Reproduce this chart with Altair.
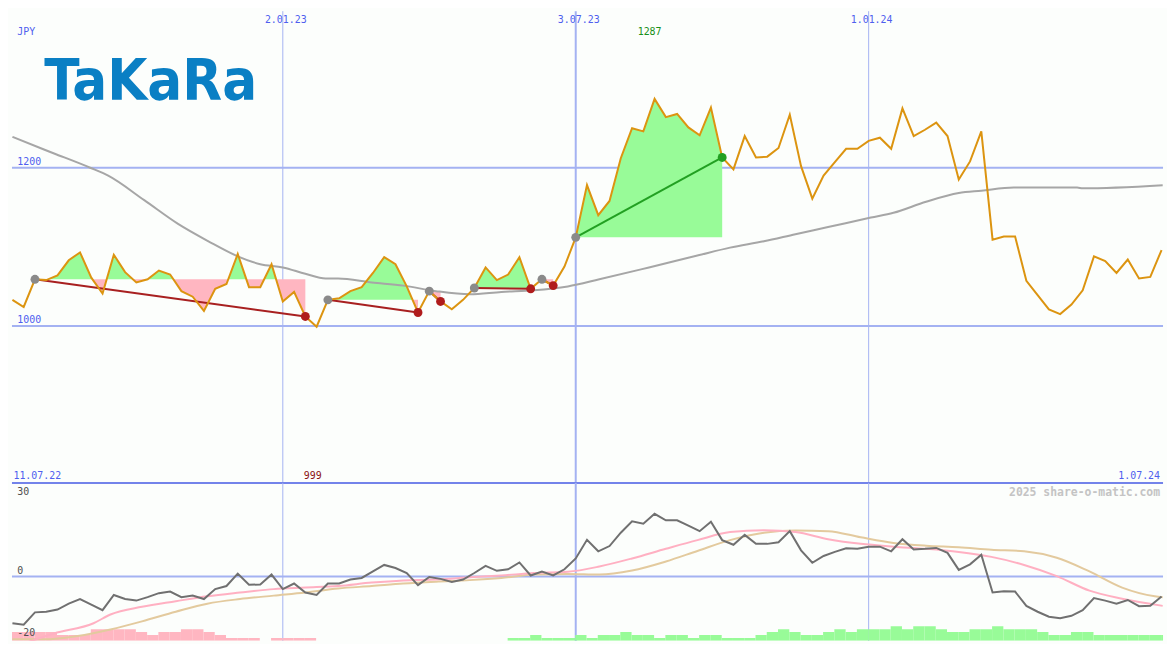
import altair as alt
import numpy as np
import pandas as pd

# ---------------- data (weekly, week 0 = 11.07.22) ----------------
PRICE = [1033, 1024, 1059, 1058, 1064, 1083, 1093, 1061, 1041, 1090,
         1068, 1055, 1059, 1070, 1065, 1044, 1037, 1019, 1047, 1053,
         1091, 1049, 1049, 1078, 1031, 1043, 1012, 999, 1033, 1035,
         1044, 1049, 1067, 1087, 1078, 1050, 1017, 1044, 1031, 1021,
         1033, 1048, 1074, 1058, 1065, 1087, 1047, 1059, 1051, 1075,
         1112, 1178, 1140, 1158, 1212, 1250, 1246, 1287, 1264, 1268,
         1251, 1241, 1276, 1213, 1198, 1240, 1213, 1214, 1225, 1267,
         1202, 1161, 1190, 1207, 1224, 1224, 1234, 1238, 1224, 1275,
         1240, 1248, 1257, 1240, 1185, 1208, 1246, 1109, 1113, 1113,
         1057, 1039, 1021, 1015, 1027, 1045, 1088, 1082, 1067, 1084,
         1060, 1062, 1096]

MA_K = [0, 2.8, 3.7, 6.9, 8.5, 11.7, 14.7, 17.4, 20.0, 22.0,
        24.0, 26.0, 27.8, 28.9, 31.9, 34.7, 37.6, 40.6, 43.4, 46.3,
        49.3, 52.1, 56.5, 60.8, 63.7, 66.7, 69.5, 72.4, 76.2, 78.2,
        81.1, 84.0, 86.0, 88.9, 94.5, 95.0, 102.1]
MA_V = [1239, 1223, 1218, 1200, 1190, 1159, 1129, 1107, 1088, 1078,
        1074, 1066, 1060, 1060, 1055, 1051, 1044, 1040, 1043, 1045,
        1050, 1059, 1074, 1089, 1099, 1107, 1116, 1125, 1137, 1143,
        1157, 1168, 1171, 1175, 1175, 1174, 1178]

SEG_START = [2, 28, 37, 41, 47, 50]
SEG_END = [26, 36, 38, 46, 48, 63]

MOM = [-15.1, -15.6, -11.6, -11.4, -10.7, -8.8, -7.3, -9.1, -10.9, -6.0,
       -7.3, -7.8, -6.7, -5.4, -4.9, -6.7, -6.2, -7.3, -4.1, -3.1,
       0.9, -2.7, -2.6, 0.6, -4.1, -2.3, -5.2, -6.0, -2.3, -2.3,
       -1.0, -0.5, 1.6, 3.7, 2.7, 1.1, -2.8, -0.2, -0.8, -1.8,
       -1.0, 1.1, 3.4, 1.8, 2.3, 4.5, 0.3, 1.6, 0.3, 2.3,
       5.8, 11.8, 8.1, 9.8, 14.1, 17.8, 17.0, 20.2, 18.1, 18.1,
       16.4, 14.6, 17.6, 11.7, 10.2, 13.4, 10.5, 10.5, 11.0, 14.6,
       8.4, 4.4, 6.6, 7.9, 9.1, 8.9, 9.6, 9.6, 8.1, 12.0,
       8.7, 8.9, 9.2, 7.6, 2.1, 3.9, 7.0, -5.2, -4.8, -4.9,
       -9.5, -11.4, -13.0, -13.5, -12.7, -10.9, -7.0, -7.8, -8.8, -7.6,
       -9.6, -9.5, -6.5]

PINK_K = [0, 3.7, 7.2, 8.7, 11.5, 14.5, 17.3, 20.2, 23.2, 26.0,
          28.9, 31.9, 34.7, 37.6, 40.6, 43.4, 46.3, 49.3, 52.1, 55.0,
          58.0, 60.8, 63.7, 66.7, 69.5, 72.4, 75.3, 78.2, 81.1, 84.0,
          86.9, 89.8, 92.7, 95.6, 98.5, 102.1]
PINK_V = [-23, -18.4, -15.1, -12.3, -9.8, -8.0, -6.4, -5.2, -4.1, -3.6,
          -3.1, -2.0, -1.3, -1.0, -0.3, 0.3, 1.1, 1.5, 3.2, 5.8,
          8.9, 11.7, 14.3, 14.9, 14.3, 12.0, 10.5, 9.6, 8.9, 7.9,
          6.3, 3.7, 0.1, -4.6, -7.2, -9.5]

TAN_K = [0, 2.8, 5.8, 8.7, 11.5, 14.5, 17.3, 20.2, 23.2, 26.0,
         28.9, 31.9, 34.7, 37.6, 40.6, 43.4, 46.3, 49.3, 52.1, 55.0,
         58.0, 60.8, 63.7, 66.7, 69.5, 72.4, 75.3, 78.2, 81.1, 84.0,
         86.9, 89.8, 92.7, 95.6, 98.5, 101.4, 102.1]
TAN_V = [-20.3, -20.3, -19.2, -17.1, -14.5, -11.4, -8.8, -7.3, -6.2, -5.2,
         -3.9, -3.1, -2.3, -1.7, -1.2, -0.5, 0.6, 0.8, 0.6, 1.9,
         4.8, 8.2, 11.7, 14.1, 14.8, 14.6, 12.6, 10.8, 9.9, 9.4,
         8.6, 8.1, 6.0, 1.6, -3.6, -6.4, -6.7]

BAR_PINK_START = 0
BAR_PINK = [3, 3, 3, 3, 2, 2, 2, 4, 4, 4, 4, 3, 2, 3, 3, 4, 4, 3, 2, 1,
            1, 1, 0, 1, 1, 1, 1]
BAR_GREEN_START = 44
BAR_GREEN = [1, 1, 2, 1, 1, 1, 2, 1, 2, 2, 3, 2, 2, 1, 2, 2, 1, 2, 2, 1,
             1, 1, 2, 3, 4, 3, 2, 2, 3, 4, 3, 4, 4, 4, 5, 4, 5, 5, 4, 3,
             3, 4, 4, 5, 4, 4, 4, 3, 2, 2, 3, 3, 2, 2, 2, 2, 2, 2, 2]

PRICE_GRID = [1000, 1200]
PRICE_GRID_LABELS = ["1000", "1200"]
DATE_K = [24, 50, 76]
DATE_LABELS = ["2.01.23", "3.07.23", "1.01.24"]
DATE_WIDTH = [1, 2, 1]
RANGE_LABELS = ["11.07.22", "1.07.24"]
OSC_ZERO = [0]
OSC_LABEL_VALUES = [0, -20]
OSC_LABELS = ["0", "-20"]
OSC_TOP_LABEL = "30"
CURRENCY = "JPY"
LOGO = "TaKaRa"
CREDIT = "2025 share-o-matic.com"

# ---------------- layout / style ----------------
W = 1159
H_TOP = 475
H_BOT = 159
SX = W / 1175
SY = (H_TOP + H_BOT) / 650

X_DOM = [-0.04, 102.13]
TOP_DOM = [801.6, 1397.9]
BOT_DOM = [-20.78, 30.16]
BAR_UNIT = 0.94

MONO = "DejaVu Sans Mono"
BLUE_TXT = "#4F5FEF"
GRID = "#A4B2F2"
BORDER = "#7383EA"
BG = "#FCFEFC"
ORANGE = "#DC9410"
GREEN_FILL = "#98FB98"
PINK_FILL = "#FFB6C1"
RED = "#A82020"
GREEN = "#22A022"

xs = alt.Scale(domain=X_DOM, nice=False, zero=False)
ys_top = alt.Scale(domain=TOP_DOM, nice=False, zero=False)
ys_bot = alt.Scale(domain=BOT_DOM, nice=False, zero=False)


def X(field="k"):
    return alt.X(f"{field}:Q", scale=xs, axis=None)


def YT(field):
    return alt.Y(f"{field}:Q", scale=ys_top, axis=None)


def YB(field):
    return alt.Y(f"{field}:Q", scale=ys_bot, axis=None)


# ---------------- derived tables ----------------
weeks = list(range(len(PRICE)))
df_price = pd.DataFrame({"k": weeks, "p": PRICE})
df_ma = pd.DataFrame({"k": MA_K, "p": MA_V})
df_dates = pd.DataFrame({"k": DATE_K, "lab": DATE_LABELS, "w": DATE_WIDTH})
df_hgrid = pd.DataFrame({"p": PRICE_GRID, "lab": PRICE_GRID_LABELS})

rows = []
for s, (a, b) in enumerate(zip(SEG_START, SEG_END)):
    base = PRICE[a]
    for k in range(a, b + 1):
        p = PRICE[k]
        rows.append({"seg": s, "k": float(k), "p": float(p), "base": float(base)})
        if k < b:
            q = PRICE[k + 1]
            if (p - base) * (q - base) < 0:
                rows.append({"seg": s, "k": k + (base - p) / (q - p),
                             "p": float(base), "base": float(base)})
df_fill = pd.DataFrame(rows)
df_fill["hi"] = df_fill[["p", "base"]].max(axis=1)
df_fill["lo"] = df_fill[["p", "base"]].min(axis=1)

tr = []
for s, (a, b) in enumerate(zip(SEG_START, SEG_END)):
    d = "up" if PRICE[b] > PRICE[a] else "down"
    tr.append({"seg": s, "k": a, "p": PRICE[a], "dir": d, "end": 0})
    tr.append({"seg": s, "k": b, "p": PRICE[b], "dir": d, "end": 1})
df_tr = pd.DataFrame(tr)

imax = int(np.argmax(PRICE))
imin = int(np.argmin(PRICE))
df_max = pd.DataFrame({"k": [imax], "lab": [str(PRICE[imax])]})
df_min = pd.DataFrame({"k": [imin], "lab": [str(PRICE[imin])]})
df_range = pd.DataFrame({"k": [weeks[0], weeks[-1]], "lab": RANGE_LABELS})

# ---------------- top panel ----------------
hgrid_rule = alt.Chart(df_hgrid).mark_rule(color=GRID, strokeWidth=2).encode(y=YT("p"))
hgrid_text = alt.Chart(df_hgrid).mark_text(
    align="left", baseline="alphabetic", dy=-3, font=MONO, fontSize=10, color=BLUE_TXT
).encode(x=alt.value(5.5 * SX), y=YT("p"), text="lab:N")

vgrid = alt.Chart(df_dates).mark_rule(color=GRID).encode(
    x=X(), strokeWidth=alt.StrokeWidth("w:Q", scale=None))
date_text = alt.Chart(df_dates).mark_text(
    align="center", baseline="alphabetic", dx=3, font=MONO, fontSize=10, color=BLUE_TXT
).encode(x=X(), y=alt.value(12.5 * SY), text="lab:N")

fill_green = alt.Chart(df_fill).mark_area(color=GREEN_FILL, opacity=1).encode(
    x=X(), y=alt.Y("hi:Q", scale=ys_top, axis=None, stack=None), y2="base:Q", detail="seg:N")
fill_pink = alt.Chart(df_fill).mark_area(color=PINK_FILL, opacity=1).encode(
    x=X(), y=alt.Y("lo:Q", scale=ys_top, axis=None, stack=None), y2="base:Q", detail="seg:N")

ma_line = alt.Chart(df_ma).mark_line(color="#A6A6A6", strokeWidth=2, interpolate="monotone").encode(
    x=X(), y=YT("p"))

trend_down = alt.Chart(df_tr).transform_filter("datum.dir == 'down'").mark_line(
    strokeWidth=2, color=RED).encode(x=X(), y=YT("p"), detail="seg:N")
trend_up = alt.Chart(df_tr).transform_filter("datum.dir == 'up'").mark_line(
    strokeWidth=2, color=GREEN).encode(x=X(), y=YT("p"), detail="seg:N")

price_line = alt.Chart(df_price).mark_line(color=ORANGE, strokeWidth=2).encode(x=X(), y=YT("p"))

dots_start = alt.Chart(df_tr).transform_filter("datum.end == 0").mark_circle(
    size=80, opacity=1, color="#8A8A8A").encode(x=X(), y=YT("p"))
dots_end_down = alt.Chart(df_tr).transform_filter("datum.end == 1 && datum.dir == 'down'").mark_circle(
    size=80, opacity=1, color="#B01C1C").encode(x=X(), y=YT("p"))
dots_end_up = alt.Chart(df_tr).transform_filter("datum.end == 1 && datum.dir == 'up'").mark_circle(
    size=80, opacity=1, color=GREEN).encode(x=X(), y=YT("p"))

max_text = alt.Chart(df_max).mark_text(
    align="center", baseline="alphabetic", dx=-5, font=MONO, fontSize=10, color="#199019"
).encode(x=X(), y=alt.value(24.5 * SY), text="lab:N")
min_text = alt.Chart(df_min).mark_text(
    align="center", baseline="alphabetic", dx=-4, font=MONO, fontSize=10, color="#8B1414"
).encode(x=X(), y=alt.value(482.5 * SY), text="lab:N")

range_left = alt.Chart(df_range.iloc[[0]]).mark_text(
    align="left", baseline="alphabetic", dx=1, font=MONO, fontSize=10, color=BLUE_TXT
).encode(x=X(), y=alt.value(482.5 * SY), text="lab:N")
range_right = alt.Chart(df_range.iloc[[1]]).mark_text(
    align="right", baseline="alphabetic", dx=-1.5, font=MONO, fontSize=10, color=BLUE_TXT
).encode(x=X(), y=alt.value(482.5 * SY), text="lab:N")

cur_text = alt.Chart(pd.DataFrame({"t": [CURRENCY]})).mark_text(
    align="left", baseline="alphabetic", font=MONO, fontSize=10, color=BLUE_TXT
).encode(x=alt.value(5.5 * SX), y=alt.value(25 * SY), text="t:N")

logo = alt.Chart(pd.DataFrame({"t": [LOGO]})).mark_text(
    align="left", baseline="alphabetic", font="'DejaVu Sans Condensed', sans-serif",
    fontSize=58, fontWeight="bold", color="#0A7FC4"
).encode(x=alt.value(33 * SX), y=alt.value(92 * SY), text="t:N")

border = alt.Chart(pd.DataFrame({"t": [0]})).mark_rule(color=BORDER, strokeWidth=2).encode(
    y=alt.value(H_TOP))

top = alt.layer(
    hgrid_rule, vgrid, fill_green, fill_pink, ma_line, trend_down, trend_up, price_line,
    dots_start, dots_end_down, dots_end_up, hgrid_text, date_text, max_text, min_text,
    range_left, range_right, cur_text, logo, border
).properties(width=W, height=H_TOP)

# ---------------- bottom panel ----------------
bar_j = list(range(BAR_PINK_START, BAR_PINK_START + len(BAR_PINK))) + \
    list(range(BAR_GREEN_START, BAR_GREEN_START + len(BAR_GREEN)))
df_bars = pd.DataFrame({"j": bar_j, "lvl": BAR_PINK + BAR_GREEN,
                        "kind": ["neg"] * len(BAR_PINK) + ["pos"] * len(BAR_GREEN)})
df_bars = df_bars[df_bars.lvl > 0].copy()
df_bars["x0"] = df_bars.j - 0.5 / 11.5
df_bars["x1"] = df_bars.x0 + 1
df_bars["lo"] = BOT_DOM[0]
df_bars["hi"] = BOT_DOM[0] + df_bars.lvl * BAR_UNIT

zero_rule = alt.Chart(pd.DataFrame({"v": OSC_ZERO})).mark_rule(color=GRID, strokeWidth=2).encode(y=YB("v"))
vgrid_b = alt.Chart(df_dates).mark_rule(color=GRID).encode(
    x=X(), strokeWidth=alt.StrokeWidth("w:Q", scale=None))
bars_neg = alt.Chart(df_bars).transform_filter("datum.kind == 'neg'").mark_rect(
    clip=True, color=PINK_FILL).encode(x=X("x0"), x2="x1:Q", y=YB("lo"), y2="hi:Q")
bars_pos = alt.Chart(df_bars).transform_filter("datum.kind == 'pos'").mark_rect(
    clip=True, color=GREEN_FILL).encode(x=X("x0"), x2="x1:Q", y=YB("lo"), y2="hi:Q")
tan_line = alt.Chart(pd.DataFrame({"k": TAN_K, "v": TAN_V})).mark_line(
    color="#E3CA9E", strokeWidth=2, interpolate="monotone", clip=True).encode(x=X(), y=YB("v"))
pink_line = alt.Chart(pd.DataFrame({"k": PINK_K, "v": PINK_V})).mark_line(
    color="#FFB0C2", strokeWidth=2, interpolate="monotone", clip=True).encode(x=X(), y=YB("v"))
mom_line = alt.Chart(pd.DataFrame({"k": weeks, "v": MOM})).mark_line(
    color="#707070", strokeWidth=2).encode(x=X(), y=YB("v"))

osc_text = alt.Chart(pd.DataFrame({"v": OSC_LABEL_VALUES, "lab": OSC_LABELS})).mark_text(
    align="left", baseline="alphabetic", dy=-2, font=MONO, fontSize=10, color="#505050"
).encode(x=alt.value(5.5 * SX), y=YB("v"), text="lab:N")
osc_top = alt.Chart(pd.DataFrame({"t": [OSC_TOP_LABEL]})).mark_text(
    align="left", baseline="alphabetic", font=MONO, fontSize=10, color="#505050"
).encode(x=alt.value(5.5 * SX), y=alt.value(12.5 * SY), text="t:N")
credit = alt.Chart(pd.DataFrame({"t": [CREDIT]})).mark_text(
    align="right", baseline="alphabetic", font=MONO, fontSize=11.5, fontWeight="bold", color="#C4C4C4"
).encode(x=alt.value(1172 * SX), y=alt.value(13 * SY), text="t:N")

bottom = alt.layer(
    zero_rule, vgrid_b, bars_neg, bars_pos, tan_line, pink_line, mom_line, osc_text, osc_top, credit
).properties(width=W, height=H_BOT)

chart = alt.vconcat(top, bottom, spacing=0).properties(
    padding=0, bounds="flush", background=BG
).configure_view(strokeWidth=0)

chart.save("out.html", embed_options={"renderer": "svg", "actions": False})
